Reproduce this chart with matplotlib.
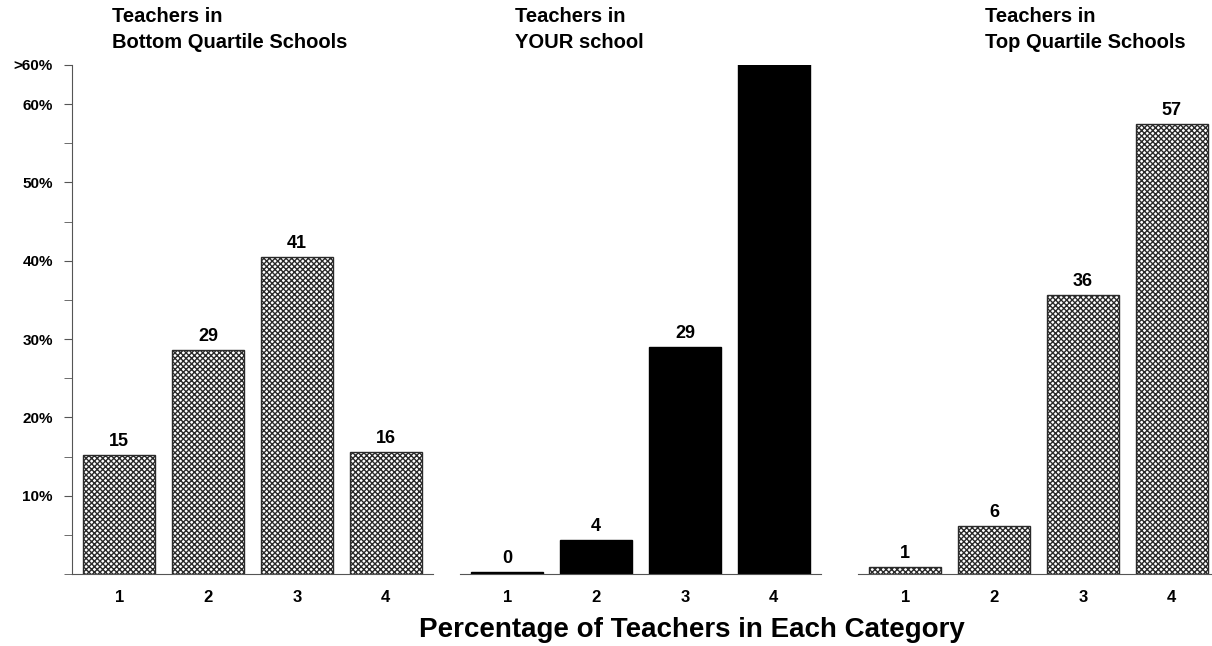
import matplotlib
matplotlib.use('Agg')
import matplotlib.pyplot as plt

plt.rcParams['font.family'] = ['Liberation Sans', 'DejaVu Sans']
plt.rcParams['font.weight'] = 'bold'
plt.rcParams['hatch.linewidth'] = 1.0

# data
categories = [1, 2, 3, 4]
bottom_vals = [15.2, 28.6, 40.5, 15.6]
bottom_labels = ['15', '29', '41', '16']
your_vals = [0.3, 4.3, 29.0, 70.0]
your_labels = ['0', '4', '29', '']
top_vals = [0.9, 6.1, 35.6, 57.5]
top_labels = ['1', '6', '36', '57']
title_line1 = ['Teachers in', 'Teachers in', 'Teachers in']
title_line2 = ['Bottom Quartile Schools', 'YOUR school', 'Top Quartile Schools']
ytick_vals = [10, 20, 30, 40, 50, 60, 65]
ytick_labels = ['10%', '20%', '30%', '40%', '50%', '60%', '>60%']
minor_vals = [0, 5, 15, 25, 35, 45, 55]

W, H = 1212, 646
fig = plt.figure(figsize=(W / 100, H / 100), dpi=100)

lefts = [72, 460, 858]
title_x = [112, 515, 985]
bottom = (H - 574) / H
height = (574 - 65) / H
width = 361 / W

series = [
    (bottom_vals, bottom_labels, 'hatch'),
    (your_vals, your_labels, 'solid'),
    (top_vals, top_labels, 'hatch'),
]

for i, (vals, labs, style) in enumerate(series):
    ax = fig.add_axes([lefts[i] / W, bottom, width, height])
    if style == 'hatch':
        bars = ax.bar(categories, vals, width=0.81, color='white',
                      edgecolor='#2a2a2a', hatch='xxxxxx', linewidth=1.0)
    else:
        bars = ax.bar(categories, vals, width=0.81, color='black',
                      edgecolor='black', linewidth=1.0)
    ax.set_xlim(0.47, 4.53)
    ax.set_ylim(0, 65)
    for b, lab in zip(bars, labs):
        if lab:
            ax.annotate(lab, (b.get_x() + b.get_width() / 2, b.get_height()),
                        xytext=(0, 6.5), textcoords='offset points',
                        ha='center', va='baseline', fontsize=13, fontweight='bold')
    for s in ['top', 'right']:
        ax.spines[s].set_visible(False)
    ax.spines['bottom'].set_color('#555555')
    ax.spines['left'].set_color('#555555')
    ax.set_xticks(categories)
    ax.set_xticklabels([str(c) for c in categories], fontsize=12, fontweight='bold')
    ax.tick_params(axis='x', length=0, pad=11.5)
    if i == 0:
        ax.set_yticks(ytick_vals)
        ax.set_yticklabels(ytick_labels, fontsize=11, fontweight='bold')
        ax.set_yticks(minor_vals, minor=True)
        ax.tick_params(axis='y', which='both', length=5.8, color='#555555', pad=8)
    else:
        ax.spines['left'].set_visible(False)
        ax.set_yticks([])
    fig.text(title_x[i] / W, 1 - 22.5 / H, title_line1[i], ha='left', va='baseline',
             fontsize=14.5, fontweight='bold')
    fig.text(title_x[i] / W, 1 - 48 / H, title_line2[i], ha='left', va='baseline',
             fontsize=14.5, fontweight='bold')

fig.text(692 / W, 1 - 637 / H, 'Percentage of Teachers in Each Category',
         ha='center', va='baseline', fontsize=20, fontweight='bold')

fig.savefig('out.png', dpi=100)
